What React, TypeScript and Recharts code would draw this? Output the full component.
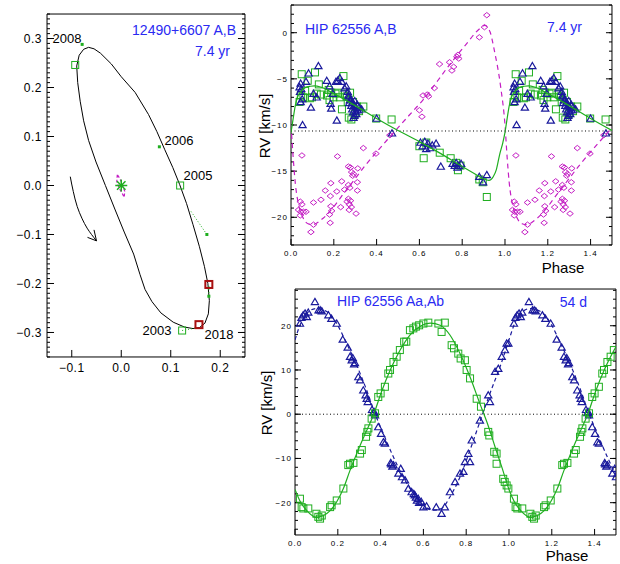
import React from 'react';
import { ComposedChart, Scatter, XAxis, YAxis, ReferenceLine } from 'recharts';

type Pt = [number, number];

const FONT = '"Liberation Sans", Arial, Helvetica, sans-serif';
const GREEN = '#1fae1f';
const BLUE = '#1a1a9c';
const MAGENTA = '#c41ec4';
const TITLE_BLUE = '#2a2af2';
const W = 620;
const H = 564;

// ---- left panel: relative orbit of A,B (arcsec) ----
const orbitPath: Pt[] = [
  [-0.090, 0.244], [-0.085, 0.266], [-0.076, 0.278], [-0.066, 0.282], [-0.055, 0.279], [-0.042, 0.270],
  [-0.020, 0.248], [0.000, 0.222], [0.028, 0.190], [0.055, 0.145], [0.072, 0.110], [0.088, 0.073],
  [0.104, 0.037], [0.118, 0.002], [0.132, -0.037], [0.145, -0.080], [0.158, -0.125], [0.168, -0.165],
  [0.175, -0.200], [0.178, -0.235], [0.176, -0.262], [0.169, -0.281], [0.158, -0.290], [0.145, -0.292],
  [0.128, -0.289], [0.105, -0.279], [0.080, -0.260], [0.062, -0.237], [0.048, -0.212], [0.038, -0.182],
  [0.025, -0.140], [0.006, -0.095], [-0.013, -0.048], [-0.032, 0.000], [-0.051, 0.048], [-0.066, 0.092],
  [-0.076, 0.132], [-0.083, 0.172], [-0.088, 0.210], [-0.090, 0.244],
];
const orbitSquares: Pt[] = [[-0.093, 0.246], [0.119, 0.0], [0.123, -0.296]];
const orbitSmall: Pt[] = [[-0.079, 0.288], [0.077, 0.079], [0.173, -0.1], [0.177, -0.226]];
const orbitRecent: Pt[] = [[0.177, -0.202], [0.157, -0.284]];
const residual1: Pt[] = [[0.141, -0.053], [0.173, -0.1]];
const residual2: Pt[] = [[0.123, -0.296], [0.150, -0.291]];
const residual3: Pt[] = [[0.177, -0.205], [0.177, -0.228]];
const innerOrbit: Pt[] = [[-0.008, 0.022], [-0.009, 0.008], [-0.004, -0.006], [0.002, -0.016], [0.006, -0.024], [0.007, -0.012], [0.002, 0.004], [-0.004, 0.016], [-0.008, 0.022]];
const motionArrow: Pt[] = [[-0.103, 0.018], [-0.097, -0.012], [-0.089, -0.043], [-0.079, -0.068], [-0.069, -0.087], [-0.05, -0.113]];
const arrowTip: Pt[] = [[-0.05, -0.113]];
const centre: Pt[] = [[0, 0]];
const yearLabels = ['2008', '2006', '2005', '2003', '2018'];

// ---- top right: outer orbit A,B RVs (phase, km/s) ----
const abGamma = -10.65;
const abBlue: Pt[] = [
  [0.040, -5.9], [0.045, -5.5], [0.048, -6.1], [0.042, -6.4], [0.045, -7.5], [0.052, -7.2], [0.054, -10.0],
  [0.070, -5.3], [0.082, -4.4], [0.093, -8.1], [0.105, -6.6], [0.128, -3.6], [0.120, -7.0], [0.167, -5.2],
  [0.180, -5.8], [0.185, -7.7], [0.188, -8.2], [0.195, -6.6], [0.210, -5.3], [0.214, -9.5], [0.228, -4.9],
  [0.218, -5.2], [0.237, -5.3], [0.250, -6.0], [0.258, -5.8], [0.265, -6.4], [0.270, -7.0], [0.272, -7.6],
  [0.280, -7.2], [0.282, -7.9], [0.286, -8.3], [0.290, -8.6], [0.292, -9.2], [0.298, -7.4], [0.300, -8.0],
  [0.305, -8.8], [0.310, -7.8], [0.312, -8.4], [0.318, -8.1], [0.268, -6.8], [0.275, -7.3], [0.285, -7.6],
  [0.295, -7.9], [0.302, -8.5], [0.296, -9.0], [0.330, -8.3], [0.400, -9.3], [0.472, -10.9],
  [0.605, -11.9], [0.615, -12.3], [0.625, -11.8], [0.632, -12.6], [0.640, -12.0], [0.650, -12.5],
  [0.660, -12.2], [0.678, -12.0], [0.700, -14.5], [0.755, -14.2], [0.765, -14.4], [0.772, -14.1],
  [0.778, -14.6], [0.785, -14.4], [0.795, -14.2], [0.880, -15.6], [0.898, -16.2], [0.915, -15.4],
];
const abGreen: Pt[] = [
  [0.040, -7.5], [0.046, -6.8], [0.050, -4.5], [0.058, -7.0], [0.066, -6.3], [0.078, -5.2], [0.088, -7.1],
  [0.098, -7.0], [0.112, -4.3], [0.120, -6.6], [0.130, -5.6], [0.140, -6.7], [0.168, -6.8], [0.176, -6.2],
  [0.180, -7.3], [0.188, -6.5], [0.198, -7.0], [0.208, -6.6], [0.218, -6.5], [0.228, -7.0], [0.238, -8.3],
  [0.245, -4.7], [0.252, -6.6], [0.260, -6.9], [0.265, -7.5], [0.270, -9.2], [0.276, -6.5], [0.282, -9.4],
  [0.290, -7.5], [0.298, -8.8], [0.308, -8.0], [0.318, -8.5], [0.338, -8.0], [0.398, -9.3], [0.470, -9.4],
  [0.600, -12.3], [0.620, -13.6], [0.632, -11.9], [0.695, -13.0], [0.746, -13.6], [0.772, -14.1],
  [0.780, -14.9], [0.792, -14.4], [0.880, -15.9], [0.896, -16.2], [0.915, -17.8],
];
const abMagenta: Pt[] = [
  [0.051, -13.3], [0.043, -18.3], [0.051, -18.6], [0.035, -19.2], [0.046, -19.4], [0.058, -19.4], [0.070, -19.4],
  [0.043, -19.8], [0.105, -18.4], [0.093, -21.6], [0.105, -20.8], [0.140, -18.1], [0.160, -17.1], [0.186, -16.3],
  [0.184, -17.7], [0.186, -18.8], [0.190, -19.3], [0.180, -19.7], [0.183, -20.6], [0.214, -17.2], [0.217, -13.4],
  [0.237, -16.1], [0.232, -18.9], [0.250, -17.0], [0.268, -14.5], [0.278, -14.6], [0.283, -15.1], [0.288, -15.5],
  [0.292, -15.3], [0.268, -16.5], [0.275, -16.8], [0.262, -18.3], [0.268, -18.0], [0.272, -18.6], [0.278, -18.2],
  [0.282, -18.9], [0.272, -19.2], [0.304, -19.6], [0.310, -16.2], [0.312, -14.7], [0.310, -17.1], [0.338, -12.5],
  [0.397, -13.1], [0.462, -11.1],
  [0.600, -8.4], [0.612, -9.1], [0.617, -6.8], [0.636, -6.7], [0.643, -6.9], [0.670, -6.0], [0.694, -3.4],
  [0.741, -3.2], [0.760, -3.7], [0.752, -4.1], [0.775, -2.6], [0.780, -2.4], [0.784, -2.8], [0.880, -0.5],
  [0.904, 0.6], [0.915, 1.9],
];
const abCurveA: Pt[] = [
  [0, -10.8], [0.01, -9.3], [0.02, -7.9], [0.03, -7.0], [0.045, -6.4], [0.066, -5.95], [0.09, -5.8], [0.11, -5.75],
  [0.14, -5.9], [0.2, -6.6], [0.3, -7.9], [0.4, -9.3], [0.5, -10.6], [0.6, -11.8], [0.7, -13.1], [0.8, -14.5],
  [0.86, -15.3], [0.9, -15.85], [0.925, -16.0], [0.945, -15.6], [0.96, -14.8], [0.975, -13.2], [0.99, -11.9], [1.0, -10.8],
];
const abCurveB: Pt[] = [
  [0, -10.0], [0.01, -13.5], [0.02, -16.3], [0.035, -18.6], [0.055, -20.0], [0.08, -20.7], [0.1, -20.8],
  [0.15, -20.1], [0.26, -17.0], [0.35, -14.3], [0.45, -11.6], [0.55, -9.0], [0.62, -7.2], [0.74, -3.5],
  [0.82, -1.2], [0.88, 0.4], [0.905, 0.8], [0.93, 0.1], [0.95, -1.9], [0.98, -5.9], [1.0, -10.0],
];

// ---- bottom right: inner pair Aa,Ab RVs ----
const aaBlue: Pt[] = [
  [0.023, 20.5], [0.03, 21.8], [0.038, 22.4], [0.047, 22.8], [0.055, 22.0], [0.062, 23.0], [0.093, 25.4],
  [0.11, 23.5], [0.118, 23.5], [0.125, 23.3], [0.156, 22.4], [0.17, 21.6], [0.195, 20.5], [0.223, 16.9],
  [0.246, 15.1], [0.257, 13.0], [0.265, 12.2], [0.27, 12.7], [0.276, 11.3], [0.28, 11.6], [0.296, 8.4],
  [0.304, 7.7], [0.319, 5.4], [0.33, 4.3], [0.335, 3.5], [0.34, 2.8], [0.36, 1.0], [0.366, 0.3], [0.37, 0.5],
  [0.374, -0.2], [0.389, -2.9], [0.402, -4.4], [0.413, -6.3], [0.42, -6.6], [0.447, -11.0], [0.45, -11.3],
  [0.455, -11.8], [0.46, -11.5], [0.483, -13.4], [0.494, -12.3], [0.5, -14.2], [0.514, -14.9], [0.53, -16.8],
  [0.545, -17.6], [0.555, -18.0], [0.56, -18.3], [0.565, -18.8], [0.57, -19.5], [0.576, -19.1], [0.58, -20.0],
  [0.59, -19.8], [0.6, -21.0], [0.615, -20.8], [0.66, -21.0], [0.685, -22.5], [0.7, -21.0], [0.724, -17.6],
  [0.748, -15.3], [0.771, -13.4], [0.787, -13.0], [0.794, -10.8], [0.81, -8.9], [0.818, -10.8], [0.826, -5.9],
  [0.864, -1.4], [0.903, 4.3], [0.911, 2.8], [0.935, 9.6], [0.95, 10.3], [0.966, 13.0], [0.981, 14.5],
  [0.989, 16.0], [0.997, 16.0],
];
const aaGreen: Pt[] = [
  [0.023, -19.1], [0.031, -21.0], [0.039, -21.3], [0.062, -21.3], [0.1, -22.5], [0.109, -23.2], [0.117, -23.6],
  [0.125, -22.9], [0.164, -21.0], [0.171, -20.6], [0.195, -19.5], [0.226, -16.8], [0.249, -11.5], [0.257, -11.2],
  [0.273, -11.0], [0.304, -8.9], [0.312, -8.1], [0.332, -5.1], [0.338, -4.0], [0.343, -3.2], [0.358, -1.0],
  [0.374, 0.2], [0.389, 3.9], [0.4, 4.7], [0.42, 6.2], [0.436, 9.2], [0.444, 10.0], [0.46, 11.8], [0.475, 13.0],
  [0.49, 14.5], [0.51, 16.4], [0.52, 16.4], [0.537, 19.0], [0.553, 19.4], [0.565, 19.8], [0.58, 20.1],
  [0.6, 20.5], [0.623, 20.7], [0.67, 20.5], [0.685, 18.6], [0.7, 20.7], [0.732, 15.6], [0.743, 14.9],
  [0.763, 13.7], [0.774, 12.6], [0.794, 12.2], [0.802, 10.0], [0.818, 8.1], [0.849, 3.5], [0.869, 1.7],
  [0.903, -4.0], [0.908, -4.8], [0.931, -8.5], [0.942, -8.9], [0.942, -11.2], [0.973, -14.6], [0.98, -15.3],
  [0.989, -16.1], [0.997, -16.8],
];
const aaCurveA: Pt[] = [
  [0, 16.8], [0.023, 20.1], [0.055, 22.8], [0.1, 23.9], [0.148, 23.2], [0.195, 20.5], [0.241, 16.0],
  [0.288, 11.1], [0.335, 5.4], [0.374, 0.1], [0.413, -4.4], [0.46, -9.7], [0.506, -14.2], [0.553, -17.9],
  [0.6, -20.6], [0.646, -21.7], [0.685, -21.3], [0.724, -18.7], [0.771, -14.2], [0.818, -8.1], [0.864, -1.7],
  [0.911, 4.7], [0.958, 10.7], [1.0, 16.8],
];
const aaCurveB: Pt[] = [
  [0, -17.0], [0.025, -19.8], [0.055, -21.8], [0.1, -23.3], [0.15, -22.4], [0.195, -19.8], [0.226, -16.8],
  [0.257, -12.7], [0.29, -8.7], [0.33, -4.2], [0.368, 0], [0.405, 5.2], [0.445, 10.0], [0.49, 14.4],
  [0.537, 17.9], [0.585, 19.9], [0.632, 20.6], [0.678, 20.1], [0.724, 17.9], [0.771, 13.7], [0.818, 8.4],
  [0.864, 2.4], [0.9, -2.2], [0.935, -7.4], [0.968, -12.2], [1.0, -17.0],
];

// tick labels
const orbitTicks = [-0.3, -0.2, -0.1, 0, 0.1, 0.2, 0.3];
const phaseTicks = [0, 0.2, 0.4, 0.6, 0.8, 1.0, 1.2, 1.4];
const abRvTicks = [-20, -15, -10, -5, 0];
const aaRvTicks = [-20, -10, 0, 10, 20];

const toXY = (pts: Pt[]) => pts.map(([x, y]) => ({ x, y }));
// phases 1.0-1.5 repeat the first half of the cycle, as in the original plot
const fold = (pts: Pt[], upTo = 0.5) =>
  toXY([...pts, ...pts.filter(([p]) => p > 0 && p <= upTo).map(([p, v]) => [p + 1, v] as Pt)]);

const steps = (a: number, b: number, s: number) => {
  const out: number[] = [];
  for (let v = a; v <= b + 1e-9; v += s) out.push(Math.round(v * 1000) / 1000);
  return out;
};
const minus = (s: string) => s.replace('-', '\u2212');
const fmt1 = (v: number) => minus(v.toFixed(1));
const fmt0 = (v: number) => minus(String(v));

const noDot = () => <g />;
const square = (color: string, size = 7, width = 1) => (p: any) => (
  <rect x={p.cx - size / 2} y={p.cy - size / 2} width={size} height={size} fill="none" stroke={color} strokeWidth={width} />
);
const triangle = (color: string) => (p: any) => (
  <path d={`M${p.cx},${p.cy - 3.5} L${p.cx + 3.6},${p.cy + 2.7} L${p.cx - 3.6},${p.cy + 2.7} Z`} fill="none" stroke={color} strokeWidth={1.2} />
);
const diamond = (color: string) => (p: any) => (
  <path d={`M${p.cx},${p.cy - 2.7} L${p.cx + 3.3},${p.cy} L${p.cx},${p.cy + 2.7} L${p.cx - 3.3},${p.cy} Z`} fill="none" stroke={color} strokeWidth={1} />
);
const dot = (p: any) => <rect x={p.cx - 1.5} y={p.cy - 1.5} width={3} height={3} fill={GREEN} />;
const asterisk = (p: any) => (
  <g stroke={GREEN} strokeWidth={1.5}>
    {[0, 45, 90, 135].map((a) => {
      const r = (a * Math.PI) / 180;
      return <line key={a} x1={p.cx - 6 * Math.cos(r)} y1={p.cy - 6 * Math.sin(r)} x2={p.cx + 6 * Math.cos(r)} y2={p.cy + 6 * Math.sin(r)} />;
    })}
  </g>
);
const arrowHead = (p: any) => (
  <path d={`M${p.cx - 9},${p.cy - 3.5} L${p.cx},${p.cy} L${p.cx - 2.5},${p.cy - 11}`} fill="none" stroke="#000" strokeWidth={1} />
);

interface FrameOpts {
  xDomain: [number, number];
  yDomain: [number, number];
  xMajor: number[];
  xMinor: number[];
  yMajor: number[];
  yMinor: number[];
  xFmt: (v: number) => string;
  yFmt: (v: number) => string;
  font: number;
  spacing: number;
  majorLen: number;
  minorLen: number;
  xGap: number;
  yGap: number;
}

// IDL-style box: inward major + minor ticks on all four sides.
// Axis sizes are tiny but non-zero (a zero-size axis is not drawn), so stacked axes sit on the same edge.
const THIN = 0.01;
function frame(o: FrameOpts) {
  const line = { stroke: '#000', strokeWidth: 1 };
  const label = { fontSize: o.font, fill: '#000', fontFamily: FONT, letterSpacing: o.spacing };
  const base = { type: 'number' as const, allowDataOverflow: true, interval: 0 as const, tickLine: line };
  const x = { ...base, domain: o.xDomain, height: THIN };
  const y = { ...base, domain: o.yDomain, width: THIN };
  return [
    <XAxis key="xb" xAxisId={0} dataKey="x" {...x} axisLine={line} ticks={o.xMajor} tickSize={-o.majorLen} tickMargin={o.majorLen + o.xGap} tick={label} tickFormatter={o.xFmt} />,
    <XAxis key="xbm" xAxisId="bm" {...x} axisLine={false} ticks={o.xMinor} tickSize={-o.minorLen} tick={noDot} />,
    <XAxis key="xt" xAxisId="t" orientation="top" {...x} axisLine={line} ticks={o.xMajor} tickSize={-o.majorLen} tick={noDot} />,
    <XAxis key="xtm" xAxisId="tm" orientation="top" {...x} axisLine={false} ticks={o.xMinor} tickSize={-o.minorLen} tick={noDot} />,
    <YAxis key="yl" yAxisId={0} dataKey="y" {...y} axisLine={line} ticks={o.yMajor} tickSize={-o.majorLen} tickMargin={o.majorLen + o.yGap} tick={label} tickFormatter={o.yFmt} />,
    <YAxis key="ylm" yAxisId="lm" {...y} axisLine={false} ticks={o.yMinor} tickSize={-o.minorLen} tick={noDot} />,
    <YAxis key="yr" yAxisId="r" orientation="right" {...y} axisLine={line} ticks={o.yMajor} tickSize={-o.majorLen} tick={noDot} />,
    <YAxis key="yrm" yAxisId="rm" orientation="right" {...y} axisLine={false} ticks={o.yMinor} tickSize={-o.minorLen} tick={noDot} />,
  ];
}

const layer: React.CSSProperties = { position: 'absolute', left: 0, top: 0 };

function Txt(props: { x: number; y: number; size: number; color?: string; anchor?: 'left' | 'center' | 'right'; rotate?: boolean; children: React.ReactNode }) {
  const { x, y, size, color = '#000', anchor = 'center', rotate = false } = props;
  const shift = anchor === 'left' ? '0%' : anchor === 'right' ? '-100%' : '-50%';
  return (
    <div
      style={{
        position: 'absolute', left: x, top: y, fontFamily: FONT, fontSize: size, color, whiteSpace: 'nowrap', lineHeight: 1,
        transform: `translate(${shift}, -50%)${rotate ? ' rotate(-90deg)' : ''}`,
      }}
    >
      {props.children}
    </div>
  );
}

function OrbitPanel() {
  return (
    <div style={layer}>
      <ComposedChart width={W} height={H} margin={{ top: 14, right: 375, bottom: 207, left: 47 }}>
        {frame({
          xDomain: [-0.15, 0.25], yDomain: [-0.35, 0.35],
          xMajor: [-0.1, 0, 0.1, 0.2], xMinor: steps(-0.15, 0.25, 0.01),
          yMajor: orbitTicks, yMinor: steps(-0.35, 0.35, 0.01),
          xFmt: fmt1, yFmt: fmt1, font: 12, spacing: 0.5, majorLen: 7, minorLen: 3, xGap: 6, yGap: 5,
        })}
        <Scatter data={toXY(orbitPath)} fill="none" line={{ stroke: '#000', strokeWidth: 1 }} lineJointType="linear" shape={noDot} isAnimationActive={false} />
        <Scatter data={toXY(innerOrbit)} fill="none" line={{ stroke: MAGENTA, strokeWidth: 1.2, strokeDasharray: '3 2' }} shape={noDot} isAnimationActive={false} />
        <Scatter data={toXY(motionArrow)} fill="none" line={{ stroke: '#000', strokeWidth: 1 }} lineJointType="monotoneY" shape={noDot} isAnimationActive={false} />
        <Scatter data={toXY(arrowTip)} fill="none" shape={arrowHead} isAnimationActive={false} />
        {[residual1, residual2, residual3].map((r, i) => (
          <Scatter key={i} data={toXY(r)} fill="none" line={{ stroke: GREEN, strokeWidth: 1, strokeDasharray: '1 2' }} shape={noDot} isAnimationActive={false} />
        ))}
        <Scatter data={toXY(orbitSmall)} fill="none" shape={dot} isAnimationActive={false} />
        <Scatter data={toXY(orbitSquares)} fill="none" shape={square(GREEN, 7)} isAnimationActive={false} />
        <Scatter data={toXY(orbitRecent)} fill="none" shape={square('#a80f0f', 7, 2)} isAnimationActive={false} />
        <Scatter data={toXY(centre)} fill="none" shape={asterisk} isAnimationActive={false} />
      </ComposedChart>
    </div>
  );
}

function AbPanel() {
  return (
    <div style={layer}>
      <ComposedChart width={W} height={H} margin={{ top: 5, right: 8, bottom: 319, left: 291 }}>
        {frame({
          xDomain: [0, 1.5], yDomain: [-23, 3],
          xMajor: phaseTicks, xMinor: steps(0, 1.5, 0.05),
          yMajor: abRvTicks, yMinor: steps(-23, 3, 1),
          xFmt: fmt1, yFmt: fmt0, font: 8, spacing: 1, majorLen: 6, minorLen: 3, xGap: 5, yGap: 3,
        })}
        <ReferenceLine y={abGamma} stroke="#000" strokeDasharray="1 2.5" />
        <Scatter data={fold(abMagenta)} fill="none" shape={diamond(MAGENTA)} isAnimationActive={false} />
        <Scatter data={fold(abGreen)} fill="none" shape={square(GREEN, 7)} isAnimationActive={false} />
        <Scatter data={fold(abBlue)} fill="none" shape={triangle(BLUE)} isAnimationActive={false} />
        <Scatter data={fold(abCurveB, 0.56)} fill="none" line={{ stroke: MAGENTA, strokeWidth: 1.2, strokeDasharray: '5 4' }} lineJointType="monotoneX" shape={noDot} isAnimationActive={false} />
        <Scatter data={fold(abCurveA, 0.56)} fill="none" line={{ stroke: GREEN, strokeWidth: 1.2 }} lineJointType="monotoneX" shape={noDot} isAnimationActive={false} />
      </ComposedChart>
    </div>
  );
}

function AaPanel() {
  return (
    <div style={layer}>
      <ComposedChart width={W} height={H} margin={{ top: 289, right: 4, bottom: 29, left: 295 }}>
        {frame({
          xDomain: [0, 1.5], yDomain: [-27.3, 28.3],
          xMajor: phaseTicks, xMinor: steps(0, 1.5, 0.05),
          yMajor: aaRvTicks, yMinor: steps(-26, 28, 2),
          xFmt: fmt1, yFmt: fmt0, font: 8, spacing: 1, majorLen: 6, minorLen: 3, xGap: 5, yGap: 3,
        })}
        <ReferenceLine y={0} stroke="#000" strokeDasharray="1 2.5" />
        <Scatter data={fold(aaBlue)} fill="none" shape={triangle(BLUE)} isAnimationActive={false} />
        <Scatter data={fold(aaGreen)} fill="none" shape={square(GREEN, 7)} isAnimationActive={false} />
        <Scatter data={fold(aaCurveA, 0.56)} fill="none" line={{ stroke: BLUE, strokeWidth: 1.2, strokeDasharray: '4 3' }} lineJointType="monotoneX" shape={noDot} isAnimationActive={false} />
        <Scatter data={fold(aaCurveB, 0.56)} fill="none" line={{ stroke: GREEN, strokeWidth: 1.2 }} lineJointType="monotoneX" shape={noDot} isAnimationActive={false} />
      </ComposedChart>
    </div>
  );
}

export default function App() {
  return (
    <div style={{ position: 'absolute', left: 0, top: 0, width: W, height: H, background: '#fff', overflow: 'hidden' }}>
      <OrbitPanel />
      <AbPanel />
      <AaPanel />

      <Txt x={236} y={30} size={14} color={TITLE_BLUE} anchor="right">12490+6607 A,B</Txt>
      <Txt x={230} y={51} size={14} color={TITLE_BLUE} anchor="right">7.4 yr</Txt>
      <Txt x={67} y={38} size={13} anchor="center">{yearLabels[0]}</Txt>
      <Txt x={179} y={140} size={13} anchor="center">{yearLabels[1]}</Txt>
      <Txt x={198} y={175} size={13} anchor="center">{yearLabels[2]}</Txt>
      <Txt x={157} y={330} size={13} anchor="center">{yearLabels[3]}</Txt>
      <Txt x={219} y={334} size={13} anchor="center">{yearLabels[4]}</Txt>

      <Txt x={305} y={29} size={14} color={TITLE_BLUE} anchor="left">HIP 62556 A,B</Txt>
      <Txt x={582} y={27} size={14} color={TITLE_BLUE} anchor="right">7.4 yr</Txt>
      <Txt x={264} y={126} size={15} rotate>RV [km/s]</Txt>
      <Txt x={563} y={267} size={15}>Phase</Txt>

      <Txt x={337} y={301} size={14} color={TITLE_BLUE} anchor="left">HIP 62556 Aa,Ab</Txt>
      <Txt x={587} y={302} size={14} color={TITLE_BLUE} anchor="right">54 d</Txt>
      <Txt x={266} y={403} size={15} rotate>RV [km/s]</Txt>
      <Txt x={567} y={555} size={15}>Phase</Txt>
    </div>
  );
}
